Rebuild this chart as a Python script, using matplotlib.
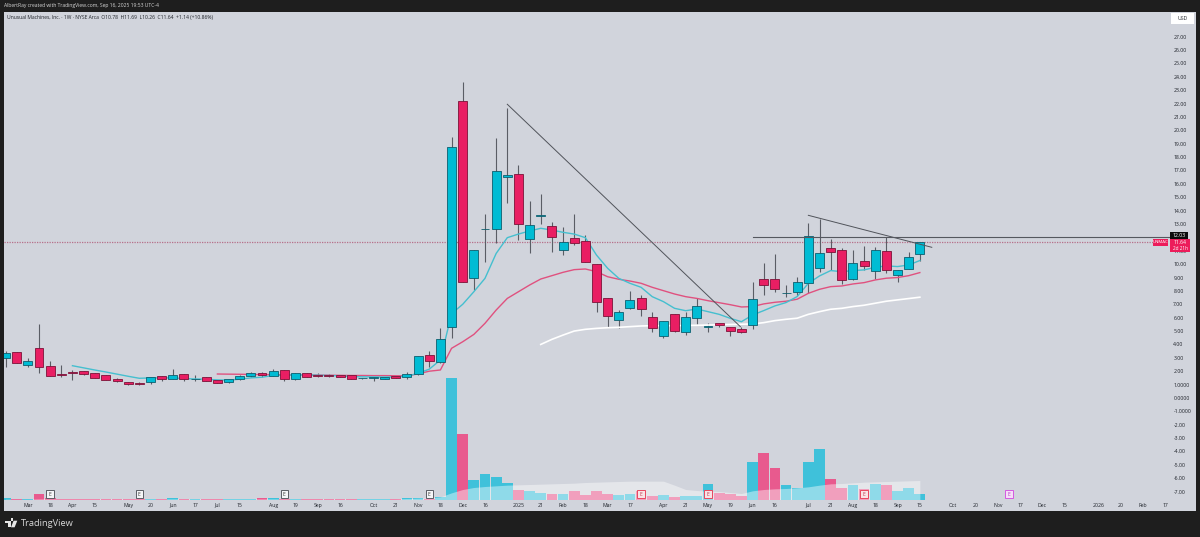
import numpy as np
import matplotlib
matplotlib.use("Agg")
import matplotlib.pyplot as plt
from matplotlib.patches import Rectangle, Polygon

plt.rcParams['font.family'] = ['Open Sans', 'DejaVu Sans']

W, H = 1200, 537

opens = [2.96,3.43,2.46,3.70,2.41,1.81,1.94,2.01,1.84,1.71,1.41,1.16,1.11,1.16,1.64,1.44,1.79,1.39,1.54,1.34,
         1.19,1.39,1.64,1.89,1.66,2.06,1.39,1.84,1.74,1.71,1.69,1.69,1.46,1.49,1.44,1.61,1.56,1.81,3.18,2.71,
         5.33,22.17,8.99,12.60,12.60,16.49,16.71,11.88,13.58,12.83,11.06,11.98,11.75,9.99,7.45,5.83,6.75,7.47,6.02,4.63,
         6.25,4.93,5.95,5.33,5.58,5.33,5.13,5.46,8.87,8.87,7.85,7.95,8.62,9.74,11.21,11.09,8.92,10.24,9.49,11.01,
         9.17,9.67,10.78]
highs = [3.50,3.43,2.98,5.52,2.76,2.46,2.09,2.01,1.86,1.71,1.46,1.16,1.20,1.60,1.64,2.16,1.79,1.71,1.56,1.36,
         1.44,1.71,1.91,1.94,2.20,2.06,1.84,1.90,1.85,1.76,1.74,1.70,1.52,1.55,1.58,1.63,1.94,3.11,3.50,5.20,
         19.48,23.59,11.06,13.75,19.40,21.64,17.41,14.72,15.24,13.18,12.80,13.75,12.18,9.99,7.45,6.57,7.99,7.69,6.45,5.75,
         6.25,6.45,7.45,5.63,5.62,5.33,5.33,8.65,10.12,10.76,8.45,9.07,13.10,13.38,11.89,11.19,11.06,11.36,11.31,12.01,
         9.57,10.94,11.69]
lows = [2.29,2.58,2.29,1.89,1.64,1.59,1.34,1.69,1.51,1.34,1.19,0.98,1.00,1.06,1.29,1.39,1.29,1.29,1.26,1.12,
        1.14,1.34,1.60,1.60,1.62,1.30,1.34,1.54,1.60,1.56,1.55,1.40,1.44,1.26,1.40,1.50,1.44,1.75,2.35,2.59,
        4.45,8.67,8.07,10.18,11.60,14.55,11.80,10.81,13.00,10.88,10.68,11.43,10.15,6.45,5.33,5.20,6.62,6.15,4.90,4.45,
        4.90,4.70,5.53,4.90,5.28,4.65,4.83,5.13,7.70,7.90,7.53,7.65,7.82,9.39,9.57,8.50,8.82,9.57,8.90,9.37,
        8.65,9.67,10.26]
closes = [3.33,2.58,2.73,2.33,1.64,1.69,1.86,1.79,1.51,1.36,1.24,1.01,1.01,1.59,1.39,1.71,1.44,1.44,1.26,1.14,
          1.39,1.66,1.84,1.74,1.99,1.39,1.84,1.56,1.64,1.66,1.59,1.44,1.51,1.54,1.56,1.51,1.76,3.11,2.78,4.38,
          18.73,8.67,11.06,12.60,16.96,16.64,12.98,12.90,13.67,12.00,11.63,11.56,10.18,7.15,6.12,6.40,7.30,6.62,5.25,5.75,
          5.00,6.02,6.90,5.33,5.45,5.00,4.90,7.40,8.42,8.17,7.85,8.70,12.08,10.81,10.94,8.80,10.07,9.87,11.06,9.59,
          9.57,10.51,11.64]

volumes = [4,3,2,18,6,3,3,3,1,1,3,3,3,2,3,5,3,2,3,1,
           1,2,2,4,6,3,2,2,2,1,1,2,1,1,2,1,4,6,2,7,
           366,197,59,78,68,50,29,27,19,16,17,25,13,27,17,13,17,27,11,13,
           7,10,11,46,19,18,11,113,141,94,43,34,114,153,61,35,43,33,46,44,
           26,34,18]
volume_ma = [1,1,1,2,2,2,2,2,2,2,2,2,2,2,2,2,2,2,2,2,
             2,2,2,2,2,2,2,2,2,2,2,2,2,2,2,2,3,4,5,8,
             20,30,36,39,41,43,44,45,46,47,48,49,51,52,53,54,55,55,55,55,
             43,30,27,25,24,21,18,26,30,32,33,35,38,43,47,48,50,52,53,54,
             55,56,57]

ma_teal = [2.41,2.25,2.09,1.94,1.78,1.62,1.47,1.5,1.5,1.5,1.45,1.42,1.4,1.35,1.33,
           1.4,1.5,1.55,1.68,1.7,1.72,1.72,1.7,1.68,1.65,1.6,1.58,1.57,1.56,1.58,1.62,
           1.85,2.15,2.84,6.3,7.0,7.94,8.94,10.8,11.98,12.25,12.48,12.68,12.55,12.38,12.25,11.98,
           10.68,9.69,8.94,8.57,8.27,7.57,7.2,6.7,6.52,6.65,6.45,6.25,5.95,5.7,6.2,
           6.53,6.88,7.13,7.58,8.57,9.12,9.52,9.44,9.52,9.57,9.77,9.87,9.82,9.94,10.27]
ma_red = [1.79,1.78,1.77,1.76,1.75,1.74,1.73,1.72,1.72,1.71,1.7,1.69,1.68,1.68,1.67,1.67,1.66,1.65,
          1.8,2.0,2.09,3.71,4.2,4.75,5.58,6.57,7.44,7.94,8.44,8.89,9.14,9.39,9.59,9.64,9.44,9.06,
          8.87,8.74,8.57,8.27,8.02,7.77,7.57,7.44,7.27,7.12,6.97,6.8,6.83,7.03,7.15,7.23,7.38,7.82,
          8.12,8.32,8.37,8.52,8.62,8.82,8.95,9.0,9.14,9.37]
ma_white = [4.0,4.38,4.7,5.0,5.13,5.2,5.25,5.28,5.33,5.38,5.4,5.4,5.4,5.42,5.43,5.45,5.47,5.49,5.51,5.53,
            5.63,5.78,5.88,5.96,6.25,6.45,6.63,6.7,6.83,6.93,7.08,7.23,7.33,7.43,7.53]

price_ticks = [27,26,25,24,23,22,21,20,19,18,17,16,15,14,13,12,11,10,9,8,7,6,5,4,3,2,1,0,-1,-2,-3,-4,-5,-6,-7]
price_labels = [f"{p}.00" for p in price_ticks[:26]] + ["1.0000","0.0000","-1.0000"] + [f"{p}.00" for p in price_ticks[29:]]

time_ticks = [2,4,6,8,11,13,15,17,19,21,24,26,28,30,33,35,37,39,41,43,46,48,50,52,54,56,59,61,63,65,67,69,72,74,76,78,80,82,
              85,87,89,91,93,95,98,100,102,104]
time_labels = ["Mar","18","Apr","15","May","20","Jun","17","Jul","15","Aug","19","Sep","16","Oct","21","Nov","18","Dec","16",
               "2025","21","Feb","18","Mar","17","Apr","21","May","19","Jun","16","Jul","21","Aug","18","Sep","15",
               "Oct","20","Nov","17","Dec","15","2026","20","Feb","17"]

earnings_past = [4,12,25,38]
earnings_miss = [57,63,77]
earnings_next = [90]

trend_long = ([45,65.9],[21.95,5.33])
trend_short = ([72,83.07],[13.65,11.26])
level = 12.03
last_price = 11.64

TEAL = "#00bcd4"
RED = "#e91e63"
PANEL = "#d1d4dc"
DARK = "#1e1e1e"
TXT = "#1d2128"

def fx(x): return x/W
def fy(y): return 1-y/H

fig = plt.figure(figsize=(12,5.37), dpi=100, facecolor=DARK)
left, right, top, bottom = 4, 1195.7, 12, 510.7
ax = fig.add_axes([fx(left), fy(bottom), (right-left)/W, (bottom-top)/H], facecolor=PANEL)
ax.set_xlim((left-5.55)/11.15, (right-5.55)/11.15)
ax.set_ylim(27-(bottom-36.7)/13.38, 27+(36.7-top)/13.38)
for s in ax.spines.values():
    s.set_visible(False)

# candles
xs = np.arange(len(opens))
o, h, l, c = map(np.array, (opens, highs, lows, closes))
up = c >= o
cols = np.where(up, TEAL, RED)
edges = np.where(up, "#0d5e6e", "#7c1238")
ax.vlines(xs, l, h, color="#5a5d65", lw=0.8, zorder=2)
ax.bar(xs, np.maximum(np.abs(c-o), 0.03), bottom=np.minimum(o, c), width=0.8, color=cols, edgecolor=edges, lw=0.6, zorder=3)

# moving averages
ax.plot(np.arange(83-len(ma_white), 83), ma_white, color="#ffffff", lw=1.2, zorder=2)
ax.plot(np.arange(83-len(ma_red), 83), ma_red, color="#e0517f", lw=1.0, zorder=2.5)
ax.plot(np.arange(83-len(ma_teal), 83), ma_teal, color="#45bfcf", lw=1.0, zorder=2.5)

# drawings
ax.plot(*trend_long, color="#50535a", lw=0.7, zorder=4)
ax.plot(*trend_short, color="#50535a", lw=0.7, zorder=4)
ax.plot([67, (1170-5.55)/11.15], [level, level], color="#55585f", lw=0.8, zorder=4)
ax.axhline(last_price, xmax=(1153-left)/(right-left), color="#b7708a", lw=0.9, ls=(0,(1,1)), zorder=1)

# volume pane
vax = ax.twinx()
vax.set_ylim(-(bottom-499.5)*3, (499.5-top)*3)
vax.patch.set_visible(False)
vax.axis('off')
vol_cols = np.where(up, "#3fc1da", "#e85a8e")
vax.bar(xs, volumes, width=0.96, color=vol_cols, zorder=2)
vax.fill_between(xs, 0, volume_ma, color="#ffffff", alpha=0.42, lw=0, zorder=3)

# axes text, after twinx because twinx sends the ticks back to the left
ax.yaxis.tick_right()
ax.set_yticks(price_ticks, price_labels)
ax.set_xticks(time_ticks, time_labels)
ax.tick_params(axis='y', length=0, pad=-(right-1173.3)*0.72, labelsize=3.7, colors=TXT)
for t in ax.get_yticklabels():
    t.set_ha('left')
ax.tick_params(axis='x', length=0, pad=-(bottom-506.8)*0.72, labelsize=3.7, colors=TXT)
for t in ax.get_xticklabels():
    t.set_va('baseline')

def earn(i, face, edge, tc):
    x = 5.55+11.15*i
    fig.add_artist(Rectangle((fx(x-3.7), fy(497.7)), 7.4/W, 7.4/H, transform=fig.transFigure, fc=face, ec=edge, lw=0.7))
    fig.text(fx(x), fy(494), "E", color=tc, fontsize=3.6, ha='center', va='center')
for i in earnings_past:
    earn(i, "#f4f5f7", "#5a5d64", "#333333")
for i in earnings_miss:
    earn(i, "#f9e3e6", "#e8475f", "#c0334a")
earn(earnings_next[0], "#f6ddf8", "#d45ae0", "#b03cc0")

# price tags
def tag(x0, x1, y0, y1, col):
    fig.add_artist(Rectangle((fx(x0), fy(y1)), (x1-x0)/W, (y1-y0)/H, transform=fig.transFigure, fc=col, ec='none'))
tag(1171, 1194, 13, 24, "#ffffff")
fig.text(fx(1182.5), fy(18.7), "USD", fontsize=3.7, color=TXT, ha='center', va='center')
tag(1170, 1190, 239, 252, "#ec1c5b")
tag(1170, 1188, 232, 239, "#0c0c0c")
tag(1152.7, 1168, 238.7, 245.7, "#ec1c5b")
fig.text(fx(1179), fy(235.6), "12.03", fontsize=3.7, color="#ffffff", ha='center', va='center')
fig.text(fx(1160.3), fy(242.3), "UNMAC", fontsize=3.2, color="#ffffff", ha='center', va='center')
fig.text(fx(1173.3), fy(242.4), "11.64", fontsize=3.7, color="#ffffff", ha='left', va='center')
fig.text(fx(1173.3), fy(248.3), "2d 21h", fontsize=3.4, color="#ffffff", ha='left', va='center')

# header and footer
fig.text(fx(4.5), fy(6), "AlbertRay created with TradingView.com, Sep 16, 2025 19:53 UTC-4", fontsize=3.65, color="#d6d6d6", ha='left', va='center')
fig.text(fx(7), fy(17.5), "Unusual Machines, Inc. · 1W · NYSE Arca  O10.78  H11.69  L10.26  C11.64  +1.14 (+10.86%)", fontsize=3.65, color=TXT, ha='left', va='center')
fig.text(fx(21), fy(523.8), "TradingView", fontsize=6.7, color="#d9d9d9", ha='left', va='center')
fig.add_artist(Rectangle((fx(5), fy(523)), 5.5/W, 2.3/H, transform=fig.transFigure, fc="#e6e6e6", ec='none'))
fig.add_artist(Rectangle((fx(7.6), fy(527.3)), 2.9/W, 5/H, transform=fig.transFigure, fc="#e6e6e6", ec='none'))
fig.add_artist(Polygon([(fx(13.6),fy(520.7)),(fx(17.3),fy(520.7)),(fx(14.6),fy(527.3)),(fx(11),fy(527.3))], transform=fig.transFigure, fc="#e6e6e6", ec='none'))
fig.add_artist(Rectangle((fx(11),fy(520.7)), 2.4/W, 2.3/H, transform=fig.transFigure, fc="#e6e6e6", ec='none'))

plt.savefig("out.png", dpi=100, facecolor=DARK)
